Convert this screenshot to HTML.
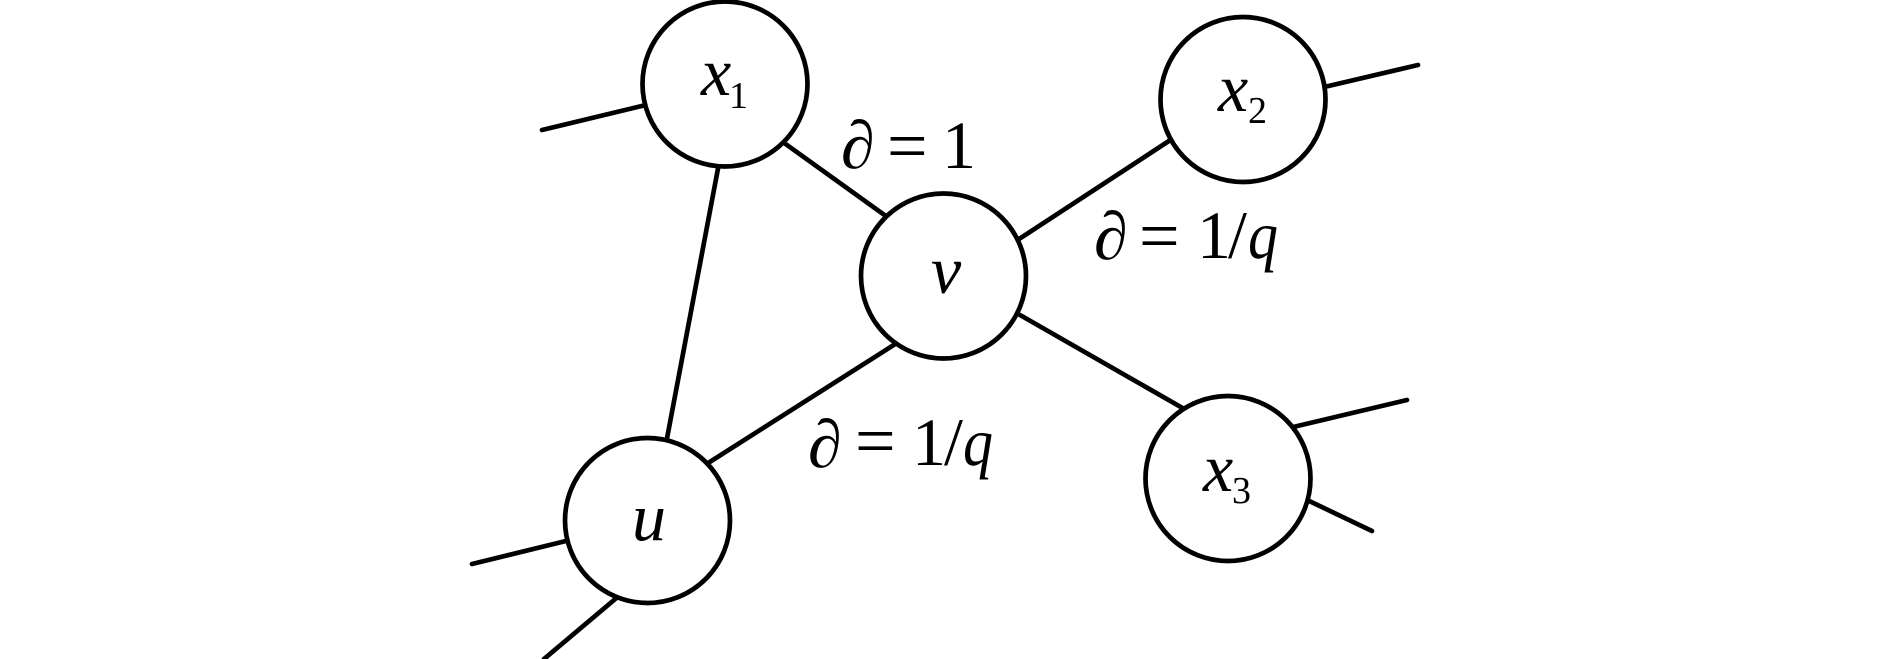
<!DOCTYPE html>
<html>
<head>
<meta charset="utf-8">
<style>
html,body{margin:0;padding:0;background:#fff;}
svg{display:block;}
text{font-family:"Liberation Serif",serif;fill:#000;font-size:68px;}
.i{font-style:italic;}
.s{font-size:38px;}
.e{font-size:72px;}
</style>
</head>
<body>
<svg width="1890" height="659" viewBox="0 0 1890 659" xmlns="http://www.w3.org/2000/svg">
<rect width="1890" height="659" fill="#fff"/>
<g stroke="#000" stroke-width="4.7" stroke-linecap="round" fill="none">
<line x1="542" y1="130" x2="650" y2="104"/>
<line x1="780" y1="140" x2="890" y2="219"/>
<line x1="720" y1="158" x2="665" y2="449"/>
<line x1="472" y1="564" x2="570" y2="540"/>
<line x1="620" y1="595" x2="544" y2="659"/>
<line x1="705" y1="465" x2="900" y2="341"/>
<line x1="1016" y1="241" x2="1175" y2="137"/>
<line x1="1020" y1="315" x2="1186" y2="410"/>
<line x1="1320" y1="88" x2="1418" y2="65"/>
<line x1="1289" y1="428" x2="1407" y2="400"/>
<line x1="1305" y1="499" x2="1372" y2="531"/>
</g>
<g stroke="#000" stroke-width="4.7" fill="#fff">
<circle cx="725" cy="84" r="82.5"/>
<circle cx="943.5" cy="276" r="82.5"/>
<circle cx="647.5" cy="520.5" r="82.5"/>
<circle cx="1243" cy="99.5" r="82.5"/>
<circle cx="1228" cy="478.5" r="82.5"/>
</g>
<text class="i" x="701" y="95">x</text><text class="s" x="729" y="108">1</text>
<text class="i" x="931" y="293">v</text>
<text class="i" x="632" y="540">u</text>
<text class="i" x="1218" y="111">x</text><text class="s" x="1248" y="123">2</text>
<text class="i" x="1203" y="491">x</text><text class="s" x="1232" y="503">3</text>
<text class="i" x="841" y="168">∂</text><text class="e" x="887" y="170">=</text><text x="942" y="168">1</text>
<text class="i" x="1094" y="259">∂</text><text class="e" x="1139" y="260">=</text><text x="1197" y="258">1</text><text x="1228" y="258">/</text><text class="i" x="1248" y="258" textLength="30" lengthAdjust="spacingAndGlyphs">q</text>
<text class="i" x="808" y="467">∂</text><text class="e" x="855" y="465">=</text><text x="912" y="465">1</text><text x="944" y="465">/</text><text class="i" x="963" y="465" textLength="30" lengthAdjust="spacingAndGlyphs">q</text>
</svg>
</body>
</html>
